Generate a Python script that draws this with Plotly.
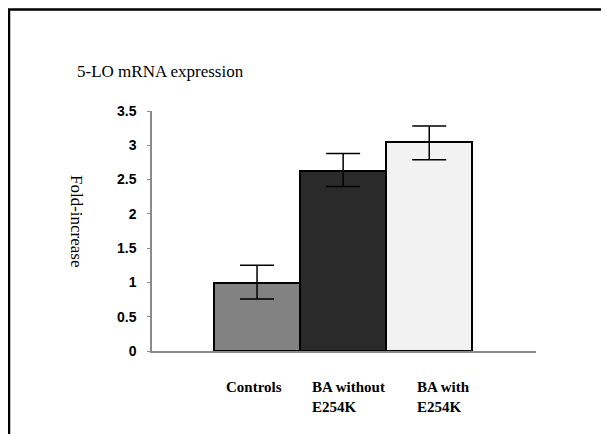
import plotly.graph_objects as go

categories = ["Controls", "BA without E254K", "BA with E254K"]
tick_labels = ["Controls", "BA without<br>E254K", "BA with<br>E254K"]
fold_increase = [0.99, 2.62, 3.05]
err_plus = [0.26, 0.26, 0.23]
err_minus = [0.23, 0.22, 0.26]
y_ticks = [0, 0.5, 1, 1.5, 2, 2.5, 3, 3.5]
y_tick_text = ["0", "0.5", "1", "1.5", "2", "2.5", "3", "3.5"]

bar_colors = ["#828282", "#2a2a2a", "#f2f2f2"]
label_shift = [-3, 5, 14]

# page has an 8px body margin; lay out in page pixels, then shift
OFF = 8
PAGE_W, PAGE_H = 609, 434
W, H = PAGE_W - OFF, PAGE_H - OFF
plot_left, plot_right, plot_top, plot_bottom = 152, 536, 111, 351
L = plot_left - OFF
R = W - (plot_right - OFF)
T = plot_top - OFF
B = H - (plot_bottom - OFF)
pw, ph = plot_right - plot_left, plot_bottom - plot_top


def px(x):
    return (x - plot_left) / pw


def py(y):
    return (plot_bottom - y) / ph


annotations = [
    dict(text="5-LO mRNA expression", xref="paper", yref="paper", x=px(75), y=py(72),
         xanchor="left", yanchor="middle", showarrow=False,
         font=dict(family="Liberation Serif", size=17, color="black")),
    dict(text="Fold-increase", xref="paper", yref="paper", x=px(77), y=py(221),
         xanchor="center", yanchor="middle", textangle=90, showarrow=False,
         font=dict(family="Liberation Serif", size=17, color="black")),
]
for cat, lab, sh in zip(categories, tick_labels, label_shift):
    annotations.append(dict(text=lab, x=cat, xref="x", yref="paper", y=py(377),
                            xanchor="center", yanchor="top", align="left", xshift=sh,
                            showarrow=False,
                            font=dict(family="Liberation Serif", size=15, color="black",
                                      weight="bold")))

fig = go.Figure()
fig.add_trace(go.Bar(
    x=categories,
    y=fold_increase,
    width=1,
    marker=dict(color=bar_colors, line=dict(color="black", width=2)),
    error_y=dict(type="data", symmetric=False, array=err_plus, arrayminus=err_minus,
                 color="black", thickness=1.5, width=17),
    showlegend=False,
))

fig.update_layout(
    width=W, height=H,
    margin=dict(l=L, r=R, t=T, b=B, pad=0),
    paper_bgcolor="white", plot_bgcolor="white",
    bargap=0,
    xaxis=dict(type="category", range=[-1.22, 3.24], showticklabels=False, ticks="",
               showgrid=False, zeroline=False, showline=True, linecolor="#8a8a8a", linewidth=1.5),
    yaxis=dict(range=[0, 3.5], tickvals=y_ticks, ticktext=y_tick_text, showgrid=False,
               zeroline=False, showline=True, linecolor="#8a8a8a", linewidth=1.5,
               ticks="outside", ticklen=3, tickcolor="#8a8a8a", ticklabelstandoff=8,
               tickfont=dict(family="Liberation Sans", size=14, color="black", weight="bold")),
    annotations=annotations,
    shapes=[dict(type="rect", xref="paper", yref="paper", x0=px(9), x1=px(607),
                 y0=py(450), y1=py(9.5), line=dict(color="black", width=2.5))],
)

fig.write_html("out.html")
